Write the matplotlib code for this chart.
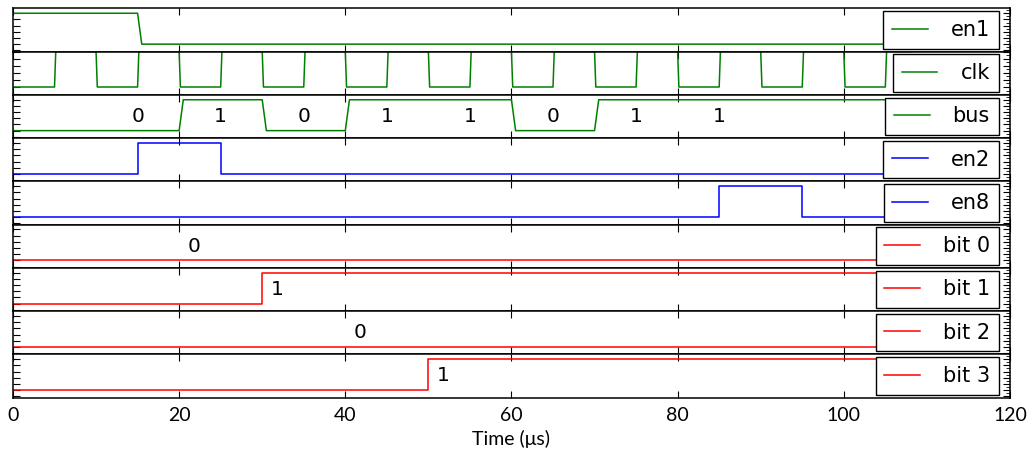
import matplotlib
matplotlib.use("Agg")
import matplotlib.pyplot as plt
from matplotlib.ticker import MultipleLocator, NullFormatter

# ---- data ----
signal_names = ["en1", "clk", "bus", "en2", "en8", "bit 0", "bit 1", "bit 2", "bit 3"]
signal_colors = ["g", "g", "g", "b", "b", "r", "r", "r", "r"]

en1_times = [0, 15]
en1_levels = [1, 0]

clk_times = [0, 5, 10, 15, 20, 25, 30, 35, 40, 45, 50, 55, 60, 65, 70, 75,
             80, 85, 90, 95, 100, 105]
clk_levels = [0, 1, 0, 1, 0, 1, 0, 1, 0, 1, 0, 1, 0, 1, 0, 1,
              0, 1, 0, 1, 0, 1]

bus_times = [0, 20, 30, 40, 60, 70]
bus_levels = [0, 1, 0, 1, 0, 1]
bus_label_x = [15, 25, 35, 45, 55, 65, 75, 85]
bus_labels = ["0", "1", "0", "1", "1", "0", "1", "1"]

en2_times = [0, 15, 25]
en2_levels = [0, 1, 0]

en8_times = [0, 85, 95]
en8_levels = [0, 1, 0]

bit0_times, bit0_levels = [0], [0]
bit1_times, bit1_levels = [0, 30], [0, 1]
bit2_times, bit2_levels = [0], [0]
bit3_times, bit3_levels = [0, 50], [0, 1]
bit_label_x = [21, 31, 41, 51]
bit_labels = ["0", "1", "0", "1"]

t_end = 108
x_ticks = [0, 20, 40, 60, 80, 100, 120]
x_label = "Time (\u03bcs)"


def wave(times, levels, ramp):
    xs, ys = [], []
    for i, (t, v) in enumerate(zip(times, levels)):
        if i == 0:
            xs.append(t); ys.append(v)
        else:
            xs.append(t); ys.append(levels[i - 1])
            xs.append(t + ramp); ys.append(v)
    xs.append(t_end); ys.append(levels[-1])
    return xs, ys


waves = [
    wave(en1_times, en1_levels, 0.5),
    wave(clk_times, clk_levels, 0.15),
    wave(bus_times, bus_levels, 0.5),
    wave(en2_times, en2_levels, 0.0),
    wave(en8_times, en8_levels, 0.0),
    wave(bit0_times, bit0_levels, 0.0),
    wave(bit1_times, bit1_levels, 0.0),
    wave(bit2_times, bit2_levels, 0.0),
    wave(bit3_times, bit3_levels, 0.0),
]

fig = plt.figure(figsize=(10.29, 4.54), dpi=100)
fig.subplots_adjust(left=0.0126, right=0.9815, top=0.9817, bottom=0.1244, hspace=0)
axes = fig.subplots(len(signal_names), 1, sharex=True)

for i, ax in enumerate(axes):
    xs, ys = waves[i]
    ax.plot(xs, ys, color=signal_colors[i], lw=1.1, label=signal_names[i])
    if signal_names[i] == "clk":
        ax.set_ylim(-0.22, 1.0)
    else:
        ax.set_ylim(-0.24, 1.16)
    ax.set_xlim(0, 120)
    ax.yaxis.set_major_locator(MultipleLocator(0.2))
    ax.yaxis.set_minor_locator(MultipleLocator(0.1))
    ax.yaxis.set_major_formatter(NullFormatter())
    ax.tick_params(axis="y", which="major", direction="in", left=True, right=True,
                   length=5, width=0.8)
    ax.tick_params(axis="y", which="minor", direction="in", left=False, right=True,
                   length=3, width=0.6)
    ax.tick_params(axis="x", which="major", direction="in", top=True, bottom=True,
                   length=5, width=0.8)
    ax.xaxis.set_major_locator(matplotlib.ticker.FixedLocator(x_ticks))
    for s in ax.spines.values():
        s.set_linewidth(1.1)
    leg = ax.legend(loc="center right", fontsize=15, frameon=True, fancybox=False,
                    handlelength=1.7, handletextpad=1.1, borderpad=0.42,
                    borderaxespad=0.55, framealpha=1.0, edgecolor="black")
    leg.get_frame().set_linewidth(1.0)
    if i < len(signal_names) - 1:
        ax.tick_params(axis="x", labelbottom=False)

for x, s in zip(bus_label_x, bus_labels):
    axes[2].text(x, 0.46, s, ha="center", va="center", fontsize=14.5)

for k, (x, s) in enumerate(zip(bit_label_x, bit_labels)):
    axes[5 + k].text(x, 0.46, s, ha="left", va="center", fontsize=14.5)

axes[-1].set_xticklabels([str(t) for t in x_ticks], fontfamily="Lato", fontsize=14)
axes[-1].tick_params(axis="x", pad=7)
axes[-1].set_xlabel(x_label, fontfamily=["Lato", "DejaVu Sans"], fontsize=14, labelpad=4)

fig.savefig("out.png", dpi=100, facecolor="white")
